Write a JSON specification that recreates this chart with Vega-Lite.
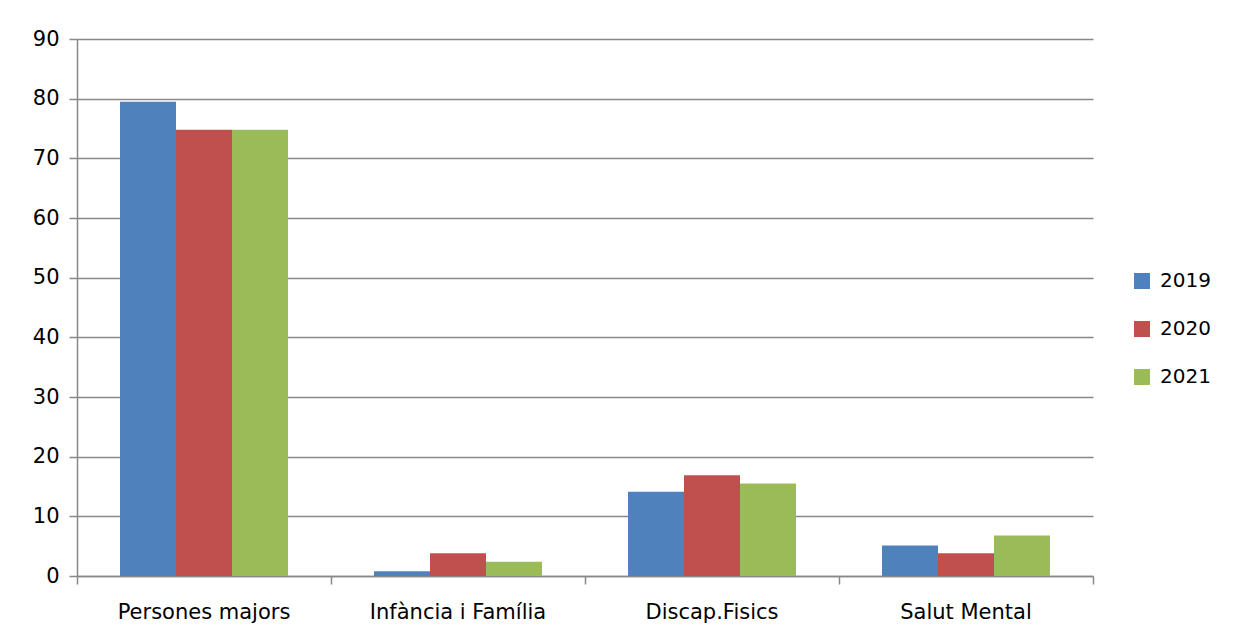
{
  "$schema": "https://vega.github.io/schema/vega-lite/v6.json",
  "width": 1016,
  "height": 537,
  "autosize": {"type": "none"},
  "padding": {"left": 77, "top": 39, "right": 147, "bottom": 61},
  "background": "white",
  "config": {
    "font": "DejaVu Sans",
    "view": {"stroke": null}
  },
  "data": {
    "values": [
      {"category": "Persones majors", "year": "2019", "value": 79.5},
      {"category": "Persones majors", "year": "2020", "value": 74.8},
      {"category": "Persones majors", "year": "2021", "value": 74.8},
      {"category": "Infància i Família", "year": "2019", "value": 0.8},
      {"category": "Infància i Família", "year": "2020", "value": 3.8},
      {"category": "Infància i Família", "year": "2021", "value": 2.4},
      {"category": "Discap.Fisics", "year": "2019", "value": 14.1},
      {"category": "Discap.Fisics", "year": "2020", "value": 16.9},
      {"category": "Discap.Fisics", "year": "2021", "value": 15.5},
      {"category": "Salut Mental", "year": "2019", "value": 5.1},
      {"category": "Salut Mental", "year": "2020", "value": 3.8},
      {"category": "Salut Mental", "year": "2021", "value": 6.8}
    ]
  },
  "mark": {"type": "bar"},
  "encoding": {
    "x": {
      "field": "category",
      "type": "nominal",
      "sort": null,
      "title": null,
      "scale": {"paddingInner": 0, "paddingOuter": 0},
      "axis": {
        "labelAngle": 0,
        "labelFont": "DejaVu Sans",
        "labelFontSize": 21,
        "labelColor": "#000000",
        "labelPadding": 17,
        "bandPosition": 1,
        "tickExtra": true,
        "tickColor": "#888888",
        "tickWidth": 1.5,
        "tickSize": 8,
        "domainColor": "#888888",
        "domainWidth": 1.5
      }
    },
    "xOffset": {"field": "year", "type": "nominal", "scale": {"paddingInner": 0, "paddingOuter": 0.768}},
    "y": {
      "field": "value",
      "type": "quantitative",
      "title": null,
      "scale": {"domain": [0, 90], "nice": false},
      "axis": {
        "values": [0, 10, 20, 30, 40, 50, 60, 70, 80, 90],
        "labelFont": "DejaVu Sans",
        "labelFontSize": 21,
        "labelColor": "#000000",
        "labelPadding": 10,
        "tickColor": "#888888",
        "tickWidth": 1.5,
        "tickSize": 8,
        "domainColor": "#888888",
        "domainWidth": 1.5,
        "grid": true,
        "gridColor": "#888888",
        "gridWidth": 1.5
      }
    },
    "color": {
      "field": "year",
      "type": "nominal",
      "title": null,
      "scale": {"domain": ["2019", "2020", "2021"], "range": ["#4F81BD", "#C0504D", "#9BBB59"]},
      "legend": {
        "orient": "none",
        "legendX": 1055,
        "legendY": 232,
        "symbolType": "square",
        "symbolSize": 256,
        "symbolStrokeWidth": 0,
        "labelFontSize": 20,
        "labelFont": "DejaVu Sans",
        "labelColor": "#000000",
        "labelOffset": 8,
        "rowPadding": 28
      }
    }
  }
}
